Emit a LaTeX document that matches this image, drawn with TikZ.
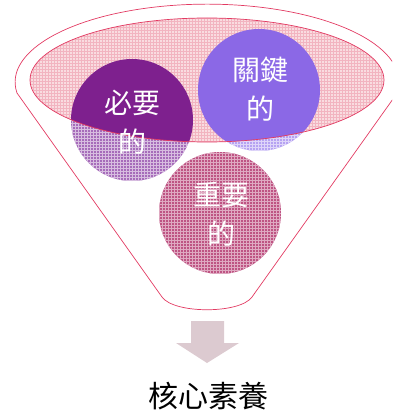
\documentclass[tikz,border=0pt]{standalone}
\usepackage{fontspec}
\newfontfamily\cjk{Noto Sans CJK TC}
\usetikzlibrary{patterns}
\definecolor{funnelred}{HTML}{E23A62}
\definecolor{pinkfill}{HTML}{F9DCE0}
\definecolor{pinkline}{HTML}{F2B4C0}
\definecolor{purpA}{HTML}{7E208E}
\definecolor{purpAl}{HTML}{A66CBA}
\definecolor{purpB}{HTML}{8B68E6}
\definecolor{purpBl}{HTML}{B5A2F2}
\definecolor{roseC}{HTML}{BE5483}
\definecolor{arrowc}{HTML}{DCCAD0}
\tikzset{
  circtext/.style={text=white,font=\cjk\fontsize{28}{39}\selectfont,align=center,inner sep=0pt},
}
\begin{document}
\begin{tikzpicture}[x=1pt,y=-1pt]
\useasboundingbox (0,0) rectangle (392,417);
\clip (0,0) rectangle (392,417);
% outer funnel
\draw[funnelred,line width=0.7pt] (17,93) arc[start angle=172,end angle=368,x radius=192,y radius=78]
  -- (252,297) .. controls (240,314) and (174,314) .. (162,297) -- cycle;
% hatched circles
\coordinate (ca) at (132,120);
\coordinate (cb) at (259,90);
\coordinate (cc) at (220,213);
\fill[purpAl] (ca) circle[radius=61];
\fill[pattern=grid,pattern color=white!55!purpAl] (ca) circle[radius=61];
\fill[purpBl] (cb) circle[radius=61];
\fill[pattern=grid,pattern color=white!55!purpBl] (cb) circle[radius=61];
\fill[roseC] (cc) circle[radius=61];
\fill[pattern=grid,pattern color=white!50!roseC] (cc) circle[radius=61];
% pink ellipse
\fill[pinkfill] (207,80) ellipse[x radius=177,y radius=62];
\fill[pattern=grid,pattern color=pinkline] (207,80) ellipse[x radius=177,y radius=62];
\begin{scope}
\clip (207,80) ellipse[x radius=177,y radius=62];
\fill[purpA] (ca) circle[radius=61];
\fill[purpB] (cb) circle[radius=61];
\end{scope}
\draw[funnelred,line width=0.7pt] (207,80) ellipse[x radius=177,y radius=62];
% texts
\node[circtext] (ta) at (132,122) {必要\\的};
\node[circtext] (tb) at (260,89) {關鍵\\的};
\node[circtext] (tc) at (221,214) {重要\\的};
% arrow
\fill[arrowc] (191,321) -- (224,321) -- (224,343) -- (239,343) -- (207,363) -- (176,343) -- (191,343) -- cycle;
\node[font=\cjk\fontsize{30}{32}\selectfont,inner sep=0pt] (title) at (208,396) {核心素養};
\end{tikzpicture}
\end{document}
